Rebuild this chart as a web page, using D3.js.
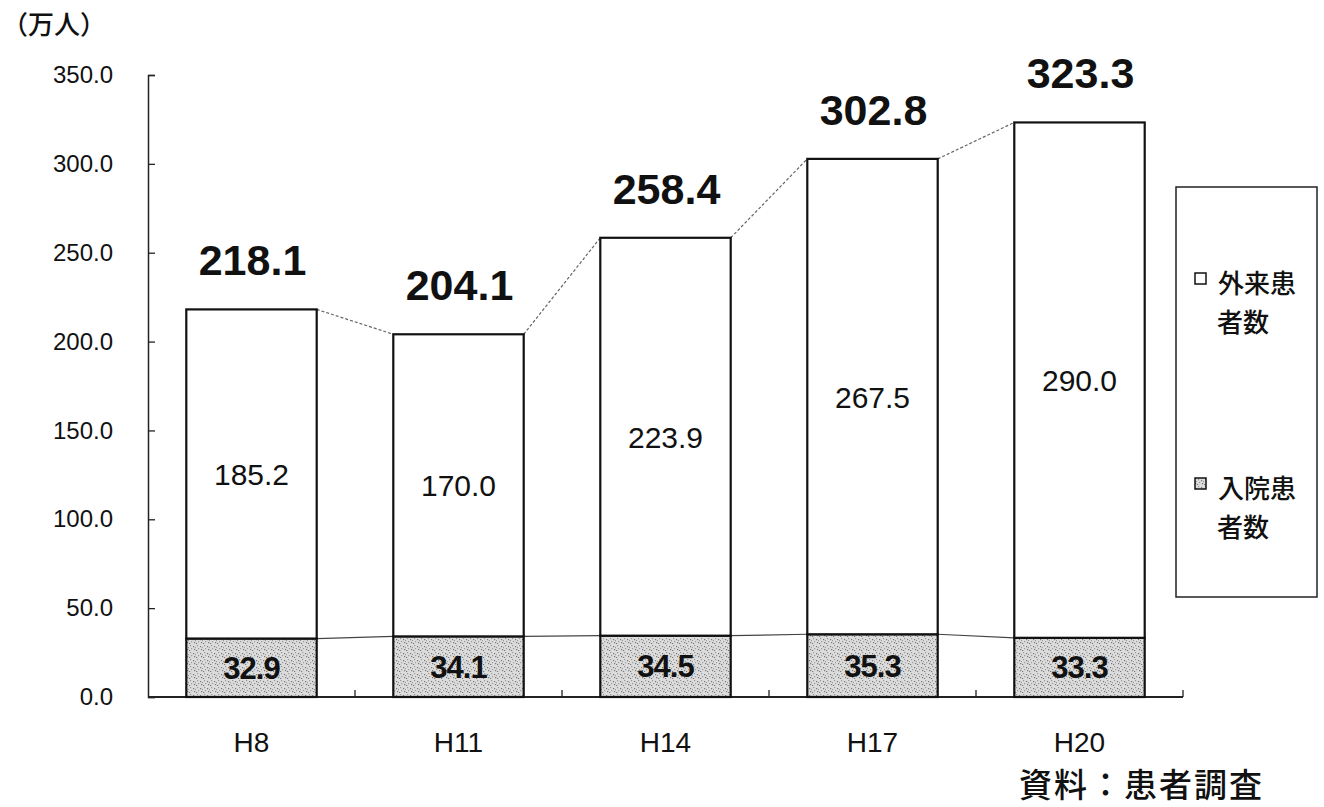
<!DOCTYPE html>
<html lang="ja">
<head>
    <meta charset="UTF-8">
    <script src="https://d3js.org/d3.v7.min.js"></script>
    <title>患者数の推移</title>
    <style>
        body{
            margin: 0;
            background: #fff;
        }
        svg{
            display: block;
            font-family: "Liberation Sans", Arial, sans-serif;
        }
        .jp{
            font-family: "Noto Sans CJK JP", sans-serif;
        }
    </style>
</head>
<body>
<svg width="1324" height="807"></svg>
<script>
// data
let years = ["H8", "H11", "H14", "H17", "H20"]
let inpatient = [32.9, 34.1, 34.5, 35.3, 33.3]     // 入院患者数
let outpatient = [185.2, 170.0, 223.9, 267.5, 290.0] // 外来患者数
let totals = [218.1, 204.1, 258.4, 302.8, 323.3]
let yTicks = [0, 50, 100, 150, 200, 250, 300, 350]
let legendNames = [["外来患", "者数"], ["入院患", "者数"]]

let svg = d3.select("svg")

let x = d3.scaleBand().domain(years).range([148, 1183])
    .paddingInner(0.37).paddingOuter(0.185)
let y = d3.scaleLinear().domain([0, 350]).range([697, 75])

// stipple pattern for the inpatient bars
let defs = svg.append("defs")
let pat = defs.append("pattern").attr("id", "stip")
    .attr("width", 7).attr("height", 7).attr("patternUnits", "userSpaceOnUse")
pat.append("rect").attr("width", 7).attr("height", 7).attr("fill", "#dcdcdc")
let dots = [[1, 1], [4, 2], [2, 4], [5, 5], [6, 3], [0, 6]]
dots.forEach(function (p, i){
    pat.append("rect").attr("x", p[0]).attr("y", p[1])
        .attr("width", 1.2).attr("height", 1.2)
        .attr("fill", i % 2 ? "#777" : "#999")
})

// axes
let yAxis = d3.axisLeft(y).tickValues(yTicks).tickSize(-7).tickPadding(35)
    .tickFormat(d3.format(".1f"))
let gy = svg.append("g").attr("transform", "translate(148,0)").call(yAxis)
gy.select(".domain").attr("stroke", "#222").attr("stroke-width", 1.5)
gy.selectAll(".tick line").attr("stroke", "#222").attr("stroke-width", 1.3)
gy.selectAll(".tick text").attr("font-size", 24).attr("fill", "#111")
    .attr("font-family", "Liberation Sans, Arial, sans-serif")

let gx = svg.append("g")
gx.append("line").attr("x1", 148).attr("x2", 1183)
    .attr("y1", y(0)).attr("y2", y(0))
    .attr("stroke", "#222").attr("stroke-width", 1.8)
// little ticks between categories
let bounds = years.map(function (d){ return x(d) - x.step() * x.paddingInner() / 2 })
bounds.push(x(years[years.length - 1]) + x.bandwidth() + x.step() * x.paddingInner() / 2)
gx.selectAll("line.tk").data(bounds.slice(1)).join("line").attr("class", "tk")
    .attr("x1", function (d){ return d }).attr("x2", function (d){ return d })
    .attr("y1", y(0)).attr("y2", y(0) - 7)
    .attr("stroke", "#222").attr("stroke-width", 1.3)
gx.selectAll("text").data(years).join("text")
    .attr("x", function (d){ return x(d) + x.bandwidth() / 2 })
    .attr("y", 752)
    .attr("text-anchor", "middle")
    .attr("font-size", 28)
    .attr("fill", "#111")
    .text(function (d){ return d })

// connector lines
let tops = svg.append("g")
for (let i = 0; i < years.length - 1; i++){
    tops.append("line")
        .attr("x1", x(years[i]) + x.bandwidth()).attr("y1", y(totals[i]))
        .attr("x2", x(years[i + 1])).attr("y2", y(totals[i + 1]))
        .attr("stroke", "#666").attr("stroke-width", 1.2).attr("stroke-dasharray", "3,2")
    tops.append("line")
        .attr("x1", x(years[i]) + x.bandwidth()).attr("y1", y(inpatient[i]))
        .attr("x2", x(years[i + 1])).attr("y2", y(inpatient[i + 1]))
        .attr("stroke", "#444").attr("stroke-width", 1.2)
}

// bars
let bars = svg.append("g")
bars.selectAll("rect.in").data(years).join("rect").attr("class", "in")
    .attr("x", function (d){ return x(d) })
    .attr("y", function (d, i){ return y(inpatient[i]) })
    .attr("width", x.bandwidth())
    .attr("height", function (d, i){ return y(0) - y(inpatient[i]) })
    .attr("fill", "url(#stip)").attr("stroke", "#111").attr("stroke-width", 2.2)
bars.selectAll("rect.out").data(years).join("rect").attr("class", "out")
    .attr("x", function (d){ return x(d) })
    .attr("y", function (d, i){ return y(inpatient[i] + outpatient[i]) })
    .attr("width", x.bandwidth())
    .attr("height", function (d, i){ return y(inpatient[i]) - y(inpatient[i] + outpatient[i]) })
    .attr("fill", "#fff").attr("stroke", "#111").attr("stroke-width", 2.2)

// labels
let lab = svg.append("g").attr("text-anchor", "middle").attr("fill", "#111")
lab.selectAll("text.in").data(years).join("text").attr("class", "in")
    .attr("x", function (d){ return x(d) + x.bandwidth() / 2 })
    .attr("y", function (d, i){ return y(inpatient[i] / 2) + 11 })
    .attr("font-size", 31).attr("font-weight", "bold").attr("letter-spacing", -1)
    .text(function (d, i){ return inpatient[i].toFixed(1) })
lab.selectAll("text.out").data(years).join("text").attr("class", "out")
    .attr("x", function (d){ return x(d) + x.bandwidth() / 2 })
    .attr("y", function (d, i){ return y(inpatient[i] + outpatient[i] / 2) + 11 })
    .attr("font-size", 30)
    .text(function (d, i){ return outpatient[i].toFixed(1) })
lab.selectAll("text.tot").data(years).join("text").attr("class", "tot")
    .attr("x", function (d){ return x(d) + x.bandwidth() / 2 + 1 })
    .attr("y", function (d, i){ return y(totals[i]) - 34 })
    .attr("font-size", 43).attr("font-weight", "bold")
    .text(function (d, i){ return totals[i].toFixed(1) })

// legend
let lg = svg.append("g")
lg.append("rect").attr("x", 1176).attr("y", 187).attr("width", 141).attr("height", 410)
    .attr("fill", "#fff").attr("stroke", "#222").attr("stroke-width", 1.5)
let legFill = ["#fff", "url(#stip)"]
legendNames.forEach(function (n, i){
    let g = lg.append("g").attr("transform", "translate(0," + (i * 205) + ")")
    g.append("rect").attr("x", 1195).attr("y", 273).attr("width", 11).attr("height", 11)
        .attr("fill", legFill[i]).attr("stroke", "#111").attr("stroke-width", 1.5)
    g.append("text").attr("class", "jp").attr("x", 1257).attr("y", 293)
        .attr("text-anchor", "middle").attr("font-size", 26).attr("font-weight", 500)
        .attr("fill", "#111").text(n[0])
    g.append("text").attr("class", "jp").attr("x", 1243).attr("y", 332)
        .attr("text-anchor", "middle").attr("font-size", 26).attr("font-weight", 500)
        .attr("fill", "#111").text(n[1])
})

// unit and source
svg.append("text").attr("class", "jp").attr("x", 2).attr("y", 34)
    .attr("font-size", 26).attr("font-weight", 500).attr("fill", "#111").text("（万人）")
svg.append("text").attr("class", "jp").attr("x", 1019).attr("y", 797)
    .attr("font-size", 33).attr("font-weight", 500).attr("fill", "#111")
    .attr("letter-spacing", 2).text("資料：患者調査")
</script>
</body>
</html>
